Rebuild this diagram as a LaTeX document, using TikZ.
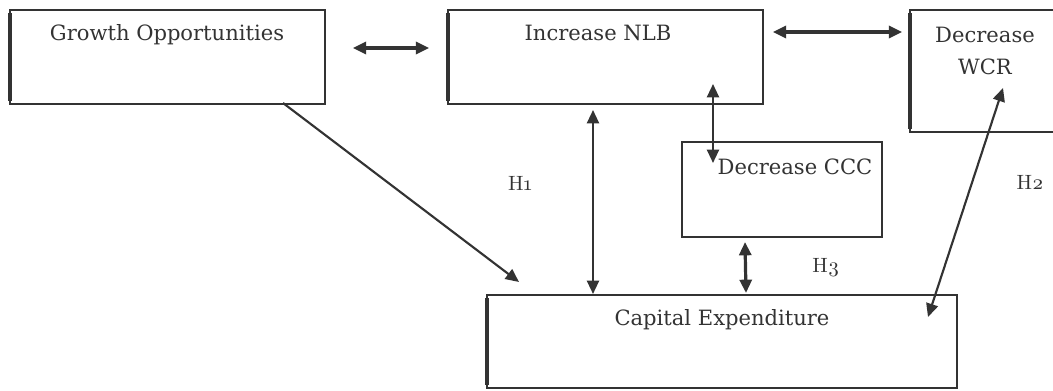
\documentclass[tikz,border=0pt]{standalone}
\usepackage{fontspec}
\setmainfont{DejaVu Serif}
\newfontfamily\osfont{lmroman10-regular}[Extension=.otf,Numbers=OldStyle]
\usetikzlibrary{arrows.meta}
\definecolor{ink}{HTML}{333333}
\begin{document}
\begin{tikzpicture}[x=0.75pt,y=-0.75pt,
  boxframe/.style={draw=ink,line width=1.3pt},
  lbl/.style={text=ink,font=\fontsize{15.8}{24.5}\selectfont,inner sep=0pt,align=center},
  hlbl/.style={text=ink,font=\osfont\fontsize{15.5}{18}\selectfont,inner sep=0pt},
  conn/.style={draw=ink,line width=1.6pt,{Triangle[length=10pt,width=9pt]}-{Triangle[length=10pt,width=9pt]}},
  connthick/.style={conn,line width=2.4pt},
  oneway/.style={draw=ink,line width=1.6pt,-{Triangle[length=10pt,width=9pt]}}]
\useasboundingbox (0,0) rectangle (1053,391);
% boxes
\node[boxframe,inner sep=0pt,minimum width=315*0.75pt,minimum height=94*0.75pt] (go) at (167.5,57) {};
\node[boxframe,inner sep=0pt,minimum width=315*0.75pt,minimum height=94*0.75pt] (nlb) at (605.5,57) {};
\node[boxframe,inner sep=0pt,minimum width=150*0.75pt,minimum height=122*0.75pt] (wcr) at (985,71) {};
\node[boxframe,inner sep=0pt,minimum width=200*0.75pt,minimum height=95*0.75pt] (ccc) at (782,189.5) {};
\node[boxframe,inner sep=0pt,minimum width=470*0.75pt,minimum height=93*0.75pt] (capex) at (722,341.5) {};
% thick left edges
\foreach \b in {go,nlb,wcr,capex}{
  \draw[ink,line width=2.4pt] ([xshift=0.6pt,yshift=-3pt]\b.north west) -- ([xshift=0.6pt,yshift=3pt]\b.south west);
}
% texts
\node[lbl] (tgo) at (167,35) {Growth Opportunities};
\node[lbl] (tnlb) at (598,33) {Increase NLB};
\node[lbl] (twcr) at (985,51) {Decrease\\WCR};
\node[lbl] (tccc) at (795,167) {Decrease CCC};
\node[lbl] (tcap) at (722,320) {Capital Expenditure};
\node[hlbl] (h1) at (520,183) {H1};
\node[hlbl] (h2) at (1030,182) {H2};
\node[hlbl] (h3) at (826,268) {H3};
% connector end points
\coordinate (a1s) at ([xshift=27*0.75pt]go.east |- 0,48);
\coordinate (a1e) at ([xshift=-18*0.75pt]nlb.west |- 0,48);
\coordinate (a2s) at ([xshift=9*0.75pt]nlb.east |- 0,32);
\coordinate (a2e) at ([xshift=-7*0.75pt]wcr.west |- 0,32);
\coordinate (a3s) at (713,84);
\coordinate (a3e) at (713,163);
\coordinate (a4s) at (593,110);
\coordinate (a4e) at (593,294);
\coordinate (a5s) at (745,242);
\coordinate (a5e) at (746,293);
\coordinate (a6s) at (1003,88);
\coordinate (a6e) at (928,317);
\coordinate (a7s) at (283,103);
\coordinate (a7e) at (519,282);
% connectors
\draw[connthick] (a1s) -- (a1e);
\draw[connthick] (a2s) -- (a2e);
\draw[conn] (a3s) -- (a3e);
\draw[conn] (a4s) -- (a4e);
\draw[connthick] (a5s) -- (a5e);
\draw[conn] (a6s) -- (a6e);
\draw[oneway] (a7s) -- (a7e);
\end{tikzpicture}
\end{document}
